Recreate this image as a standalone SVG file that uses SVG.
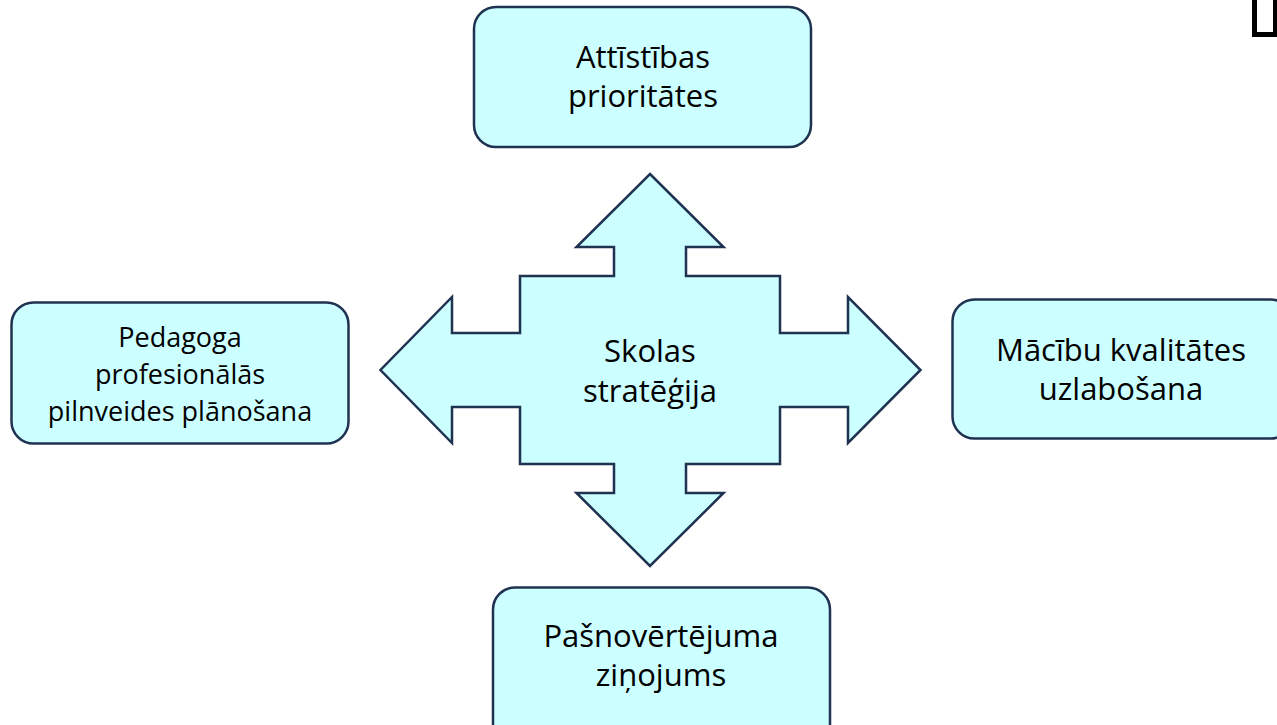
<svg xmlns="http://www.w3.org/2000/svg" width="1277" height="725" viewBox="0 0 1277 725">
<style>
.box{fill:#ccffff;stroke:#1f3251;stroke-width:2.5}
.arrow{fill:#ccffff;stroke:#1f3251;stroke-width:2.5;stroke-linejoin:miter}
.t{font-family:"Open Sans","Noto Sans",sans-serif;font-size:31px;fill:#000;text-anchor:middle}
.s{font-size:27px}
</style>
<rect width="1277" height="725" fill="#ffffff"/>
<g id="glyph-box">
<rect x="1254.5" y="-6" width="21" height="40.5" fill="none" stroke="#000" stroke-width="5"/>
</g>
<g id="connectors">
<path class="arrow" d="M650,174 L723.5,247 L686,247 L686,276 L780,276 L780,333 L848,333 L848,297 L920.5,370 L848,443 L848,407 L780,407 L780,464 L686,464 L686,493 L723.5,493 L650,566 L576.5,493 L614,493 L614,464 L520,464 L520,407 L452,407 L452,443 L380.5,370 L452,297 L452,333 L520,333 L520,276 L614,276 L614,247 L576.5,247 Z"/>
</g>
<g id="center">
<text class="t" x="650" y="362">Skolas</text>
<text class="t" x="650" y="402">stratēģija</text>
</g>
<g id="node-top">
<rect class="box" x="474" y="7" width="337" height="140" rx="22"/>
<text class="t" x="643" y="68">Attīstības</text>
<text class="t" x="643" y="107">prioritātes</text>
</g>
<g id="node-left">
<rect class="box" x="11.5" y="302.5" width="337" height="141" rx="22"/>
<text class="t s" x="180" y="347">Pedagoga</text>
<text class="t s" x="180" y="384">profesionālās</text>
<text class="t s" x="180" y="421">pilnveides plānošana</text>
</g>
<g id="node-right">
<rect class="box" x="952.5" y="299.5" width="340" height="139" rx="22"/>
<text class="t" x="1121" y="361">Mācību kvalitātes</text>
<text class="t" x="1121" y="400">uzlabošana</text>
</g>
<g id="node-bottom">
<rect class="box" x="493" y="587.5" width="337" height="160" rx="22"/>
<text class="t" x="661" y="647">Pašnovērtējuma</text>
<text class="t" x="661" y="686">ziņojums</text>
</g>
</svg>
